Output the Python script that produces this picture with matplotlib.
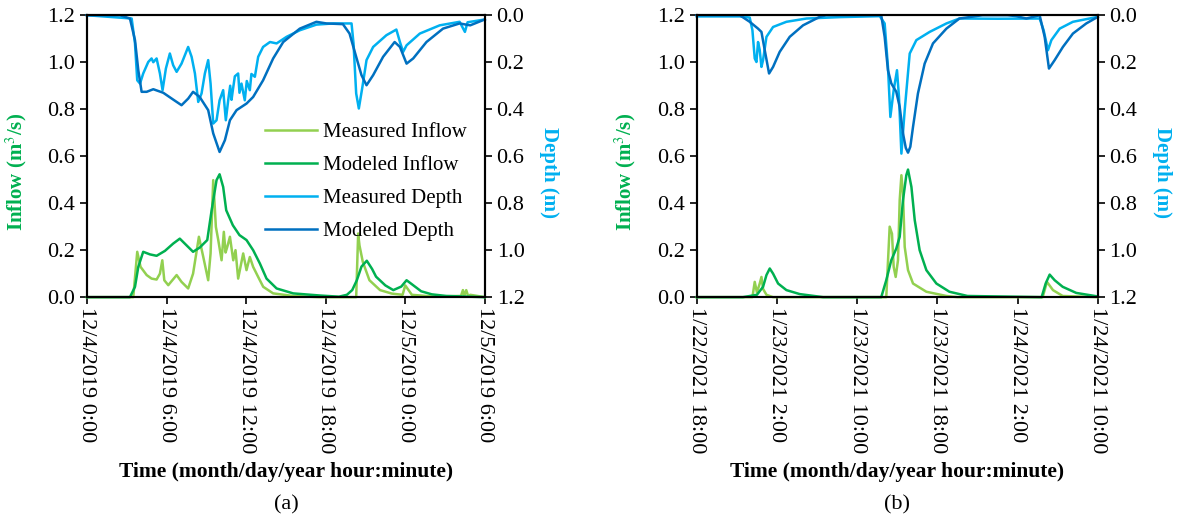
import matplotlib.pyplot as plt

plt.rcParams['font.family'] = ['Liberation Serif', 'DejaVu Serif']
plt.rcParams['mathtext.fontset'] = 'stix'

# colours (Excel style)
c_meas_q = '#92D050'
c_mod_q = '#00B050'
c_meas_d = '#00B0F0'
c_mod_d = '#0070C0'

# ---- panel (a): hours after 12/4/2019 0:00 ----
a_ticks = ['12/4/2019 0:00', '12/4/2019 6:00', '12/4/2019 12:00',
           '12/4/2019 18:00', '12/5/2019 0:00', '12/5/2019 6:00']

# measured inflow (m3/s)
a_mq_t = [0, 3.49, 3.79, 4.04, 4.5, 4.87, 5.25, 5.5, 5.68, 5.83, 6.13, 6.76, 7.13, 7.63, 8.0,
          8.44, 8.77, 9.14, 9.32, 9.52, 9.72, 9.9, 10.15, 10.32, 10.45, 10.58, 10.78, 11.03, 11.2,
          11.4, 11.78, 12.03, 12.28, 12.53, 12.91, 13.29, 14.04, 15.55, 17.5,
          20.3, 20.45, 20.55, 20.8, 21.3, 22.1, 23.0, 23.8, 24.0, 24.5, 26.0, 28.2, 28.35, 28.45,
          28.6, 28.75, 28.9, 30]
a_mq_v = [0, 0, 0.193, 0.129, 0.094, 0.079, 0.075, 0.10, 0.157, 0.072, 0.051, 0.094, 0.065, 0.037, 0.10,
          0.257, 0.171, 0.072, 0.186, 0.498, 0.299, 0.243, 0.157, 0.278, 0.19, 0.214, 0.257, 0.157, 0.2,
          0.079, 0.186, 0.115, 0.171, 0.129, 0.086, 0.044, 0.016, 0.005, 0.0,
          0.0, 0.271, 0.22, 0.15, 0.072, 0.03, 0.015, 0.01, 0.05, 0.01, 0.003, 0.005, 0.03, 0.005,
          0.03, 0.003, 0.01, 0.0]

# modeled inflow (m3/s)
a_sq_t = [0, 3.24, 3.62, 3.87, 4.24, 4.75, 5.25, 5.88, 6.5, 7.0, 7.5, 8.0, 8.5, 9.07, 9.4, 9.77,
          10.0, 10.27, 10.5, 11.0, 11.5, 12.03, 12.53, 13.04, 13.54, 14.3, 15.55, 17.56, 19.0,
          19.6, 20.0, 20.35, 20.7, 21.1, 21.5, 21.8, 22.5, 23.1, 23.7, 24.1, 24.5, 25.2, 26.0,
          27.1, 30]
a_sq_v = [0, 0, 0.044, 0.129, 0.193, 0.182, 0.176, 0.197, 0.228, 0.249, 0.221, 0.193, 0.211, 0.243,
          0.37, 0.498, 0.523, 0.469, 0.37, 0.306, 0.264, 0.243, 0.2, 0.143, 0.079, 0.037, 0.016, 0.007,
          0.002, 0.01, 0.03, 0.072, 0.13, 0.155, 0.12, 0.087, 0.05, 0.03, 0.045, 0.072, 0.055, 0.025,
          0.012, 0.005, 0.0]

# measured depth (m)
a_md_t = [0, 3.37, 3.62, 3.79, 4.0, 4.24, 4.62, 4.87, 5.0, 5.25, 5.5, 5.7, 5.95, 6.25, 6.5, 6.76,
          7.13, 7.63, 7.89, 8.14, 8.39, 8.64, 8.89, 9.14, 9.32, 9.52, 9.77, 10.0, 10.27, 10.47,
          10.65, 10.8, 10.9, 11.0, 11.15, 11.4, 11.5, 11.65, 11.9, 12.05, 12.28, 12.4, 12.66, 12.91,
          13.28, 13.8, 14.3, 15.05, 16.05, 17.3, 18.56, 19.95, 20.1, 20.3, 20.5, 20.77, 21.08,
          21.58, 22.58, 23.33, 23.6, 23.84, 24.1, 25.1, 26.6, 28.1, 28.5, 28.7, 30]
a_md_v = [0, 0.014, 0.12, 0.277, 0.291, 0.248, 0.199, 0.184, 0.2, 0.184, 0.248, 0.319, 0.227, 0.163,
          0.213, 0.241, 0.206, 0.135, 0.177, 0.248, 0.369, 0.333, 0.248, 0.191, 0.291, 0.461, 0.447,
          0.362, 0.319, 0.447, 0.362, 0.30, 0.36, 0.319, 0.26, 0.248, 0.33, 0.291, 0.362, 0.28, 0.319,
          0.25, 0.262, 0.177, 0.135, 0.114, 0.12, 0.092, 0.064, 0.04, 0.035, 0.035, 0.12, 0.333,
          0.397, 0.305, 0.191, 0.135, 0.085, 0.061, 0.114, 0.156, 0.128, 0.078, 0.043, 0.028, 0.071,
          0.03, 0.018]

# modeled depth (m)
a_sd_t = [0, 2.49, 3.24, 3.62, 3.87, 4.12, 4.5, 5.0, 5.75, 6.5, 7.13, 7.63, 8.0, 8.5, 9.14, 9.52,
          10.0, 10.4, 10.78, 11.28, 12.03, 12.53, 13.28, 14.04, 14.8, 16.05, 17.3, 18.06, 19.3,
          19.8, 20.3, 20.7, 21.08, 21.58, 22.33, 23.2, 23.6, 24.1, 24.6, 25.6, 26.85, 28.1,
          28.9, 30]
a_sd_v = [0, 0, 0.014, 0.106, 0.234, 0.326, 0.326, 0.315, 0.33, 0.359, 0.383, 0.355, 0.326, 0.348,
          0.404, 0.503, 0.582, 0.532, 0.447, 0.404, 0.376, 0.348, 0.277, 0.184, 0.114, 0.057, 0.028,
          0.035, 0.038, 0.078, 0.177, 0.255, 0.298, 0.255, 0.177, 0.114, 0.135, 0.206, 0.184, 0.114,
          0.057, 0.035, 0.043, 0.018]

# ---- panel (b): hours after 1/22/2021 18:00 ----
b_ticks = ['1/22/2021 18:00', '1/23/2021 2:00', '1/23/2021 10:00',
           '1/23/2021 18:00', '1/24/2021 2:00', '1/24/2021 10:00']

b_mq_t = [0, 5.55, 5.78, 6.0, 6.28, 6.45, 6.61, 6.95, 7.6, 18.9, 19.24, 19.47, 19.64, 19.84,
          20.07, 20.24, 20.41, 20.57, 20.74, 21.07, 21.57, 22.9, 24.9, 26, 34.5, 34.7, 34.93,
          35.53, 36.5, 40]
b_mq_v = [0, 0, 0.065, 0.02, 0.058, 0.086, 0.035, 0.01, 0.0, 0.0, 0.30, 0.27, 0.129, 0.086,
          0.157, 0.413, 0.519, 0.441, 0.214, 0.115, 0.058, 0.023, 0.005, 0.0, 0.0, 0.03, 0.065,
          0.03, 0.005, 0.0]

b_sq_t = [0, 4.6, 6.0, 6.61, 6.95, 7.28, 7.61, 8.11, 8.94, 10.27, 12.6, 18.4, 18.9, 19.4, 19.9,
          20.24, 20.57, 20.9, 21.07, 21.41, 21.74, 22.23, 22.9, 23.9, 25.2, 27.0, 34.4, 34.8,
          35.2, 35.7, 36.5, 37.85, 40]
b_sq_v = [0, 0, 0.01, 0.044, 0.094, 0.122, 0.10, 0.058, 0.03, 0.013, 0.0, 0.0, 0.072, 0.157, 0.207,
          0.257, 0.413, 0.519, 0.543, 0.469, 0.328, 0.20, 0.115, 0.058, 0.023, 0.005, 0.0, 0.058,
          0.096, 0.072, 0.044, 0.018, 0.003]

b_md_t = [0, 4.29, 5.28, 5.55, 5.78, 5.95, 6.11, 6.28, 6.45, 6.61, 6.95, 7.61, 8.94, 10.94, 14.3,
          18.25, 18.74, 19.07, 19.31, 19.64, 19.97, 20.17, 20.41, 20.74, 21.24, 21.9, 23.23, 24.9,
          26.2, 30, 34.2, 34.6, 35.03, 35.37, 36.2, 37.52, 40]
b_md_v = [0.005, 0.005, 0.01, 0.064, 0.184, 0.199, 0.114, 0.149, 0.22, 0.191, 0.092, 0.05, 0.028,
          0.014, 0.008, 0.004, 0.035, 0.22, 0.433, 0.319, 0.234, 0.348, 0.589, 0.404, 0.163, 0.106,
          0.071, 0.035, 0.014, 0.015, 0.014, 0.064, 0.149, 0.106, 0.057, 0.028, 0.007]

b_sd_t = [0, 4.29, 5.28, 6.11, 6.45, 6.78, 7.21, 7.61, 8.27, 9.27, 10.6, 12.26, 12.9, 18.4, 18.74,
          19.07, 19.4, 19.9, 20.24, 20.57, 20.85, 21.07, 21.3, 21.57, 22.06, 22.73, 23.56, 24.9, 26.2,
          28.5, 31.0, 31.87, 32.87, 34.2, 34.7, 35.13, 35.7, 36.52, 37.52, 38.85, 40]
b_sd_v = [0, 0, 0.028, 0.057, 0.071, 0.149, 0.248, 0.22, 0.156, 0.092, 0.043, 0.007, 0.0, 0.0, 0.092,
          0.234, 0.29, 0.326, 0.39, 0.503, 0.565, 0.585, 0.56, 0.475, 0.333, 0.206, 0.12, 0.057, 0.014,
          0.0, 0.0, 0.004, 0.014, 0.0, 0.092, 0.227, 0.191, 0.135, 0.078, 0.035, 0.007]

fig = plt.figure(figsize=(11.77, 5.25), dpi=100)

panels = [
    ([0.0739, 0.434, 0.338, 0.537], 30, 6, a_ticks, a_mq_t, a_mq_v, a_sq_t, a_sq_v,
     a_md_t, a_md_v, a_sd_t, a_sd_v, '(a)', True),
    ([0.592, 0.434, 0.3407, 0.537], 40, 8, b_ticks, b_mq_t, b_mq_v, b_sq_t, b_sq_v,
     b_md_t, b_md_v, b_sd_t, b_sd_v, '(b)', False),
]

yt = [0, 0.2, 0.4, 0.6, 0.8, 1.0, 1.2]

for (pos, span, step, ticks, mq_t, mq_v, sq_t, sq_v, md_t, md_v, sd_t, sd_v, tag, show_leg) in panels:
    ax = fig.add_axes(pos)
    ax.plot(mq_t, mq_v, color=c_meas_q, lw=1.8, label='Measured Inflow', zorder=3, clip_on=False)
    ax.plot(sq_t, sq_v, color=c_mod_q, lw=1.8, label='Modeled Inflow', zorder=4, clip_on=False)
    ax.set_xlim(0, span)
    ax.set_ylim(0, 1.2)
    ax.set_yticks(yt)
    ax.set_yticklabels([f'{v:.1f}' for v in yt])
    ax.set_xticks(range(0, span + 1, step))
    ax.set_xticklabels(ticks, rotation=-90)
    ax.tick_params(axis='both', direction='out', length=5, width=1.2, labelsize=16)
    ax.tick_params(axis='x', pad=2)
    ax.set_ylabel('Inflow (m$^3$/s)', color=c_mod_q, fontsize=15, fontweight='bold')
    ax.yaxis.set_label_coords(-0.146, 0.443)
    for s in ax.spines.values():
        s.set_linewidth(1.5)

    ax2 = ax.twinx()
    ax2.plot(md_t, md_v, color=c_meas_d, lw=1.8, label='Measured Depth', clip_on=False)
    ax2.plot(sd_t, sd_v, color=c_mod_d, lw=1.8, label='Modeled Depth', clip_on=False)
    ax2.set_ylim(1.2, 0)
    ax2.set_yticks(yt)
    ax2.set_yticklabels([f'{v:.1f}' for v in yt])
    ax2.tick_params(axis='y', direction='out', length=5, width=1.2, labelsize=16)
    ax2.set_ylabel('Depth (m)', color=c_meas_d, fontsize=15, fontweight='bold', rotation=-90)
    ax2.yaxis.set_label_coords(1.186, 0.443)
    for s in ax2.spines.values():
        s.set_linewidth(1.5)

    if show_leg:
        h1, l1 = ax.get_legend_handles_labels()
        h2, l2 = ax2.get_legend_handles_labels()
        ax2.legend(h1 + h2, l1 + l2, loc='upper left', bbox_to_anchor=(0.447, 0.62),
                   frameon=False, fontsize=15, handlelength=2.5, handletextpad=0.3,
                   labelspacing=0.65, borderpad=0, borderaxespad=0)

    cx = pos[0] + pos[2] / 2
    fig.text(cx, 0.101, 'Time (month/day/year hour:minute)', ha='center', va='center',
             fontsize=15.5, fontweight='bold')
    fig.text(cx, 0.038, tag, ha='center', va='center', fontsize=16)

fig.savefig('out.png', dpi=100)
